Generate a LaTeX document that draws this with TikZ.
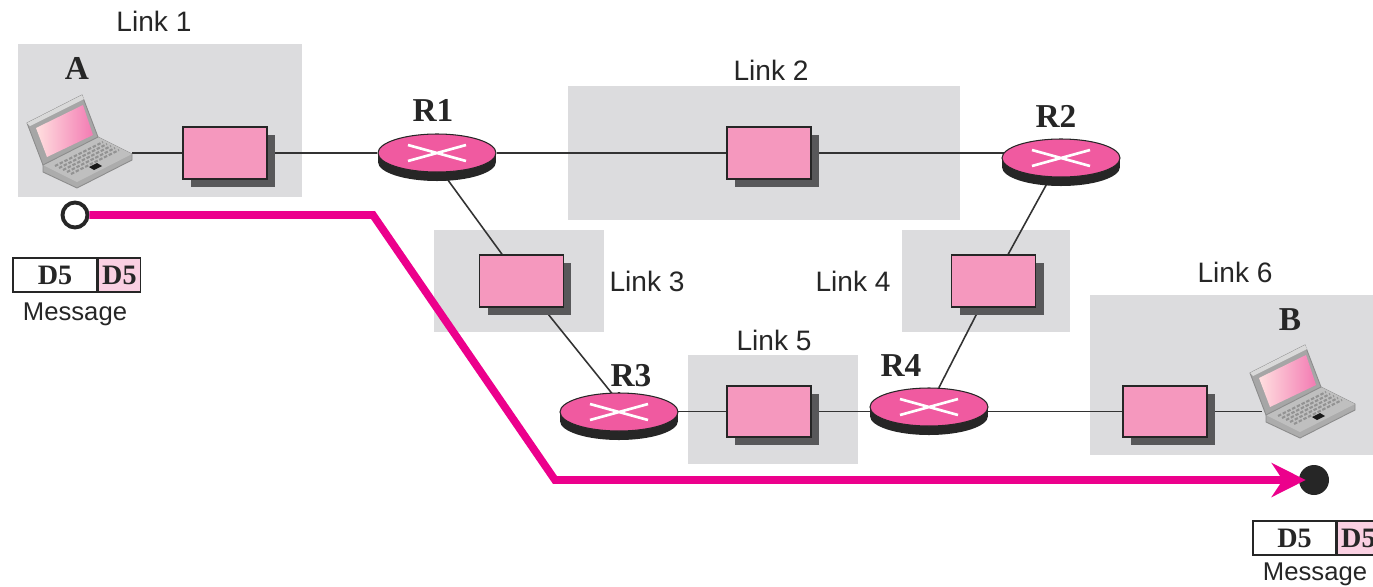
\documentclass[tikz,border=0pt]{standalone}
\usepackage{fontspec}
\setmainfont{Liberation Sans}
\newfontfamily\labelserif{Liberation Serif}
\usetikzlibrary{positioning,shapes.geometric,shadows,arrows.meta}
\definecolor{mygrey}{RGB}{220,220,222}
\definecolor{mypink}{RGB}{245,152,190}
\definecolor{myrouter}{RGB}{240,90,160}
\definecolor{mypale}{RGB}{250,208,226}
\definecolor{mypath}{RGB}{236,0,140}
\definecolor{myshadow}{RGB}{88,88,90}
\pgfdeclarelayer{back}
\pgfdeclarelayer{lines}
\pgfsetlayers{back,lines,main}
\newcommand{\router}[3]{
  \fill[black!85] (#2,#3) ++(-59,0) -- ++(0,9) arc[start angle=180,end angle=360,x radius=1.18cm,y radius=0.38cm] -- ++(0,-9) -- cycle;
  \node[rnode] (#1) at (#2,#3) {};
  \draw[white,line width=1.5pt] (#2,#3) +(-29,-8) -- +(29,8) +(-29,8) -- +(29,-8);
}

\begin{document}
\begin{tikzpicture}[x=0.02cm,y=-0.02cm,
  area/.style={fill=mygrey,inner sep=0},
  hop/.style={draw=black!85,line width=1.1pt,fill=mypink,inner sep=0,minimum width=1.68cm,minimum height=1.03cm,
    drop shadow={shadow xshift=0.16cm,shadow yshift=-0.16cm,opacity=1,fill=myshadow}},
  rnode/.style={ellipse,draw=black!85,line width=0.6pt,fill=myrouter,inner sep=0,minimum width=2.36cm,minimum height=0.76cm},
  linktext/.style={font=\fontsize{16}{18}\selectfont,text=black!85},
  msgtext/.style={font=\fontsize{14.6}{18}\selectfont,text=black!85},
  rtext/.style={font=\labelserif\bfseries\fontsize{19}{22}\selectfont,text=black!85},
  dcell/.style={draw=black!85,line width=0.8pt,font=\labelserif\bfseries\fontsize{16}{18}\selectfont,text=black!85,inner sep=0,minimum height=0.68cm},
  conn/.style={line width=0.9pt,black!80},
  laptop/.pic={
    \filldraw[fill=gray!65,draw=gray!90,line width=0.5pt] (16,70) -- (71,42) -- (105,59) -- (105,65) -- (50,93) -- (16,77) -- cycle;
    \fill[gray!50] (16,70) -- (71,42) -- (105,59) -- (50,87) -- cycle;
    \filldraw[fill=gray!70,draw=gray!90,line width=0.5pt] (0,28) -- (55,0) -- (71,42) -- (16,70) -- cycle;
    \fill[gray!30] (0,28) -- (55,0) -- (57,4) -- (3,31) -- cycle;
    \shade[left color=pink!50,right color=myrouter!80] (9,33) -- (56,10) -- (66,40) -- (20,62) -- cycle;
    \foreach \k in {0,...,4}
      \draw[gray!85,line width=1.2pt,dash pattern=on 2pt off 1pt] (28+\k*4,71+\k*2) -- (76+\k*4,47+\k*2);
    \fill[gray!20!black] (62,72) -- (70,68) -- (75,71) -- (67,75) -- cycle;
  }]

  \useasboundingbox (0,0) rectangle (1373,586);

  \begin{pgfonlayer}{back}
  \node[area,minimum width=5.68cm,minimum height=3.06cm] (area1) at (160,120.5) {};
  \node[area,minimum width=7.84cm,minimum height=2.68cm] (area2) at (764,153) {};
  \node[area,minimum width=3.4cm,minimum height=2.04cm] (area3) at (519,281) {};
  \node[area,minimum width=3.36cm,minimum height=2.04cm] (area4) at (986,281) {};
  \node[area,minimum width=3.4cm,minimum height=2.18cm] (area5) at (773,409.5) {};
  \node[area,minimum width=5.66cm,minimum height=3.2cm] (area6) at (1231.5,375) {};
  \end{pgfonlayer}

  \node[hop] (box1) at (225,153) {};
  \node[hop] (box2) at (769,153) {};
  \node[hop] (box3) at (521.5,281) {};
  \node[hop] (box4) at (993.5,281) {};
  \node[hop] (box5) at (769,411.5) {};
  \node[hop] (box6) at (1165,411.5) {};

  \router{r1}{437}{153}
  \router{r2}{1061}{158}
  \router{r3}{619}{412}
  \router{r4}{929}{407}

  \pic at (27,95) {laptop};
  \pic at (1250,345) {laptop};
  \coordinate (lapa) at (132,153);
  \coordinate (lapb) at (1262,411.5);

  \begin{pgfonlayer}{lines}
  \draw[conn] (lapa) -- (box1) -- (r1) -- (box2) -- (box2 -| r2);
  \draw[conn] ([xshift=-5pt]r1.center) -- (box3);
  \draw[conn] (box3) -- ([xshift=4.5pt]r3.center);
  \draw[conn] (box4) -- (r2);
  \draw[conn] (box4) -- (r4);
  \draw[conn] (r3) -- (box5 -| r3) -- (box5) -- (box5 -| r4) -- (r4);
  \draw[conn] (r4) -- (box6 -| r4) -- (box6) -- (lapb);
  \end{pgfonlayer}

  % link labels
  \node[linktext] (link1) at (154,21) {Link 1};
  \node[linktext] (link2) at (771,70) {Link 2};
  \node[linktext] (link3) at (647,281) {Link 3};
  \node[linktext] (link4) at (853,281) {Link 4};
  \node[linktext] (link5) at (774,340) {Link 5};
  \node[linktext] (link6) at (1235,272) {Link 6};

  \node[rtext] (namea) at (77,68) {A};
  \node[rtext] (nameb) at (1290,320) {B};
  \node[rtext] (namer1) at (433,110) {R1};
  \node[rtext] (namer2) at (1056,116) {R2};
  \node[rtext] (namer3) at (631,376) {R3};
  \node[rtext] (namer4) at (901,366) {R4};

  % headers under the two hosts
  \node[dcell,fill=white,minimum width=1.68cm] (msga) at (55,275) {D5};
  \node[dcell,fill=mypale,minimum width=0.84cm,right=0cm of msga] (hdra) {D5};
  \node[msgtext] (texta) at (75,314) {Message};
  \node[dcell,fill=white,minimum width=1.66cm] (msgb) at (1294.5,538) {D5};
  \node[dcell,fill=mypale,minimum width=0.84cm,right=0cm of msgb] (hdrb) {D5};
  \node[msgtext] (textb) at (1315,574) {Message};

  \node[circle,draw=black!85,line width=2.2pt,fill=white,inner sep=0,minimum size=0.5cm] (src) at (75,215) {};
  \node[circle,fill=black!85,inner sep=0,minimum size=0.6cm] (dst) at (1314,480) {};
  \draw[mypath,line width=4.4pt,-{Stealth[length=0.68cm,width=0.68cm]},shorten >=-4pt] (src) -- (373,215) -- (555,480) -- (dst);
\end{tikzpicture}
\end{document}
